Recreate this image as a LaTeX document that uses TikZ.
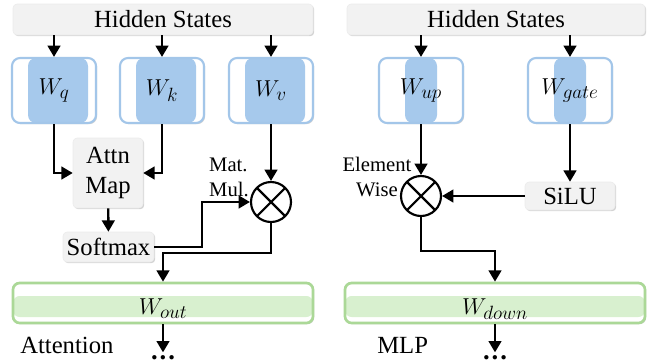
\documentclass[tikz,border=0pt]{standalone}
\usepackage{fontspec}
\setmainfont{Liberation Serif}
\DeclareMathSizes{17.28}{17.28}{14}{11}
\usepackage{tikz}
\usetikzlibrary{arrows.meta, shadows, positioning}
\definecolor{hsgray}{HTML}{F2F2F2}
\definecolor{wblue}{HTML}{A6C9EC}
\definecolor{wblueline}{HTML}{A3C6E9}
\definecolor{wgreen}{HTML}{D8F0CF}
\definecolor{wgreenline}{HTML}{ABD897}
\tikzset{arr/.style={-{Triangle[width=9.5pt, length=8.5pt]}, line width=1.8pt}}
\tikzset{shade/.style={drop shadow={shadow xshift=0.9pt, shadow yshift=-0.9pt, opacity=0.35}}}
\tikzset{big/.style={font=\fontsize{18.5}{22}\selectfont}}
\tikzset{small/.style={font=\fontsize{15.5}{18.7}\selectfont, align=center, inner sep=0pt}}
\tikzset{hsbox/.style={big, draw=black!8, fill=hsgray, rounded corners=3pt, shade, inner sep=0pt, minimum height=23.25pt}}
\tikzset{opbox/.style={big, draw=black!8, fill=hsgray, rounded corners=3pt, shade, inner sep=0pt}}
\tikzset{wbox/.style={draw=wblueline, line width=1.6pt, fill=white, rounded corners=6pt, shade,
    minimum width=63pt, minimum height=48.75pt, inner sep=0pt, font=\fontsize{17.28}{20}\selectfont}}
\tikzset{wide/.style={path picture={\fill[wblue] ([xshift=12pt]path picture bounding box.north west)
    rectangle ([xshift=-6pt]path picture bounding box.south east);}}}
\tikzset{narrow/.style={path picture={\fill[wblue] ([xshift=-12pt]path picture bounding box.north)
    rectangle ([xshift=12pt]path picture bounding box.south);}}}
\tikzset{obox/.style={draw=wgreenline, line width=2pt, fill=white, rounded corners=5pt, shade,
    minimum width=225pt, minimum height=30pt, inner sep=0pt,
    path picture={\fill[wgreen] ([yshift=-9.75pt]path picture bounding box.north west)
    rectangle ([yshift=4.5pt]path picture bounding box.south east);}}}
\tikzset{wlabel/.style={font=\fontsize{17.28}{20}\selectfont, inner sep=0pt}}
\tikzset{otimes/.style={circle, draw, line width=1.6pt, minimum size=30pt, inner sep=0pt,
    path picture={\draw[line width=1.6pt] (path picture bounding box.north west) -- (path picture bounding box.south east)
    (path picture bounding box.north east) -- (path picture bounding box.south west);}}}
\tikzset{dotsty/.style={font=\fontsize{20}{22}\selectfont\bfseries, inner sep=0pt, anchor=north}}

\begin{document}
\begin{tikzpicture}[x=0.75pt, y=-0.75pt]
    \useasboundingbox (0,0) rectangle (653,362);
    % attention
    \node[hsbox, minimum width=225pt] (hsa) at (163,19.5) {Hidden States};
    \node[wbox, wide] (wq) at (54,90.5) {$W_q$};
    \node[wbox, wide] (wk) at (162,90.5) {$W_k$};
    \node[wbox, wide] (wv) at (271,90.5) {$W_v$};
    \node[opbox, minimum width=52.5pt, minimum height=52.5pt, align=center] (attn) at (108,173) {Attn\\Map};
    \node[opbox, minimum width=68.25pt, minimum height=22.5pt] (soft) at (108.5,247) {Softmax};
    \node[otimes] (mm) at (271,202) {};
    \node[small, align=left] (mmlab) at (229,177) {Mat.\\Mul.};
    \node[obox] (out) at (163,303) {};
    \node[wlabel] (outlab) at (163,309) {$W_{out}$};
    \node[big, anchor=base west, inner sep=0pt] (attlab) at (20,353) {Attention};
    \node[dotsty] (dota) at (163,355) {.\hspace{1.5pt}.\hspace{1.5pt}.};

    \draw[arr] (wq |- hsa.south) -- (wq);
    \draw[arr] (wk |- hsa.south) -- (wk);
    \draw[arr] (wv |- hsa.south) -- (wv);
    \draw[arr] (wq.south) |- (attn.west);
    \draw[arr] (wk.south) |- (attn.east);
    \draw[arr] (attn) -- (soft);
    \draw[arr] (wv) -- (mm);
    \draw[arr] (soft.east) -- ++(48,0) |- (mm.west);
    \draw[arr] (mm.south) -- ++(0,30) -| (out.north);
    \draw[arr, shorten >=2pt] (out.south) -- (dota.north);

    % mlp
    \node[hsbox, minimum width=223.5pt] (hsm) at (496,19.5) {Hidden States};
    \node[wbox, narrow] (wup) at (421,90.5) {$W_{up}$};
    \node[wbox, narrow] (wgate) at (570,90.5) {$W_{gate}$};
    \node[opbox, minimum width=67.5pt, minimum height=21pt] (silu) at (570,196) {SiLU};
    \node[otimes] (ew) at (421,196) {};
    \node[small] (ewlab) at (377,177) {Element\\Wise};
    \node[obox] (down) at (495,303) {};
    \node[wlabel] (downlab) at (495,309) {$W_{down}$};
    \node[big, anchor=base west, inner sep=0pt] (mlplab) at (377,353) {MLP};
    \node[dotsty] (dotm) at (495,355) {.\hspace{1.5pt}.\hspace{1.5pt}.};

    \draw[arr] (wup |- hsm.south) -- (wup);
    \draw[arr] (wgate |- hsm.south) -- (wgate);
    \draw[arr] (wup) -- (ew);
    \draw[arr] (wgate) -- (silu);
    \draw[arr] (silu) -- (ew);
    \draw[arr] (ew.south) -- ++(0,34) -| (down.north);
    \draw[arr, shorten >=2pt] (down.south) -- (dotm.north);
\end{tikzpicture}
\end{document}
